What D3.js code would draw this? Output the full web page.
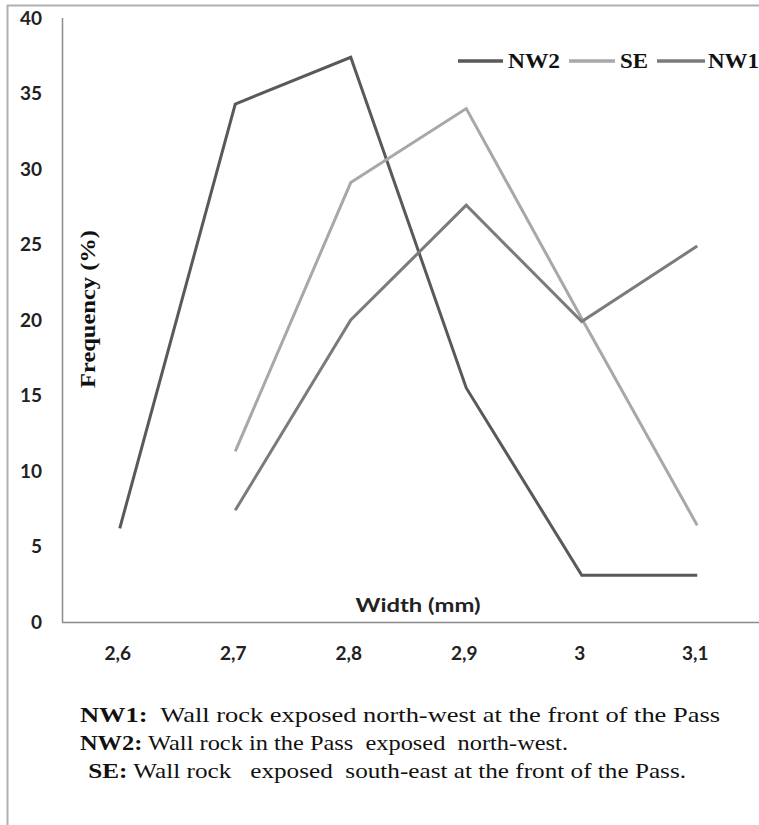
<!DOCTYPE html>
<html><head><meta charset="utf-8">
<script src="https://cdn.jsdelivr.net/npm/d3@7"></script>
<style>html,body{margin:0;padding:0;background:#fff;}svg{display:block;}</style>
</head><body>
<svg id="chart" width="759" height="825"></svg>
<script>
const categories = ["2,6","2,7","2,8","2,9","3","3,1"];
const nw2 = [6.2, 34.3, 37.4, 15.5, 3.1, 3.1];
const se  = [null, 11.3, 29.1, 34.0, 20.1, 6.4];
const nw1 = [null, 7.4, 20.0, 27.6, 19.9, 24.9];
const yTicks = [0,5,10,15,20,25,30,35,40];
const seriesNames = ["NW2","SE","NW1"];
const notes = [
  {b:"NW1:", t:"  Wall rock exposed north-west at the front of the Pass"},
  {b:"NW2:", t:" Wall rock in the Pass  exposed  north-west."},
  {b:" SE:", t:" Wall rock   exposed  south-east at the front of the Pass."}
];

const svg = d3.select("#chart");
const colors = {NW2:"#59595c", SE:"#a8a8aa", NW1:"#7b7b7f"};
const series = [{name:"NW2",v:nw2},{name:"SE",v:se},{name:"NW1",v:nw1}];

// frame
svg.append("line").attr("x1",7).attr("x2",759).attr("y1",5.5).attr("y2",5.5).attr("stroke","#b0b0b0").attr("stroke-width",2);
svg.append("line").attr("x1",7.5).attr("x2",7.5).attr("y1",5).attr("y2",825).attr("stroke","#b0b0b0").attr("stroke-width",2);

const x = d3.scaleBand().domain(categories).range([62,755]);
const y = d3.scaleLinear().domain([0,40]).range([622,18]);
const cx = c => x(c) + x.bandwidth()/2;

const numFont = "Lato, 'Open Sans', sans-serif";
const serif = "'Liberation Serif', 'Times New Roman', serif";

// axes
svg.append("line").attr("x1",62.5).attr("x2",62.5).attr("y1",18).attr("y2",622).attr("stroke","#8a8a8a").attr("stroke-width",1.5);
svg.append("line").attr("x1",62).attr("x2",759).attr("y1",622.5).attr("y2",622.5).attr("stroke","#8a8a8a").attr("stroke-width",1.5);

svg.append("g").selectAll("text").data(yTicks).join("text")
  .attr("x",42).attr("y",d=>y(d)).attr("dy","0.36em").attr("text-anchor","end")
  .attr("font-family",numFont).attr("font-weight","bold").attr("font-size",19).attr("fill","#222")
  .text(d=>d);

svg.append("g").selectAll("text").data(categories).join("text")
  .attr("x",d=>cx(d)-2).attr("y",653).attr("dy","0.36em").attr("text-anchor","middle")
  .attr("font-family",numFont).attr("font-weight","bold").attr("font-size",19).attr("fill","#222")
  .text(d=>d);

svg.append("text").attr("x",418).attr("y",605).attr("dy","0.36em").attr("text-anchor","middle")
  .attr("font-family",numFont).attr("font-weight","bold").attr("font-size",19).attr("fill","#222")
  .attr("textLength",125).attr("lengthAdjust","spacingAndGlyphs")
  .text("Width (mm)");

svg.append("text").attr("transform","translate(88,309) rotate(-90)").attr("dy","0.35em").attr("text-anchor","middle")
  .attr("font-family",serif).attr("font-weight","bold").attr("font-size",20).attr("fill","#111")
  .attr("textLength",158).attr("lengthAdjust","spacingAndGlyphs")
  .text("Frequency (%)");

// lines
const line = d3.line().defined(d=>d.v!=null).x(d=>cx(d.c)).y(d=>y(d.v));
series.forEach(s=>{
  svg.append("path").datum(categories.map((c,i)=>({c:c,v:s.v[i]})))
    .attr("d",line).attr("fill","none").attr("stroke",colors[s.name])
    .attr("stroke-width",3).attr("stroke-linejoin","miter");
});

// legend
const legendPos = [{x1:458,x2:503,tx:508,tw:52},{x1:569,x2:615,tx:620,tw:28},{x1:657,x2:705,tx:708,tw:51}];
seriesNames.forEach((n,i)=>{
  const p = legendPos[i];
  svg.append("line").attr("x1",p.x1).attr("x2",p.x2).attr("y1",61).attr("y2",61).attr("stroke",colors[n]).attr("stroke-width",3.5);
  svg.append("text").attr("x",p.tx).attr("y",61).attr("dy","0.35em")
    .attr("font-family",serif).attr("font-weight","bold").attr("font-size",20).attr("fill","#111")
    .attr("textLength",p.tw).attr("lengthAdjust","spacingAndGlyphs").text(n);
});

// notes
const noteLayout = [{x:80,w:640,y:714},{x:80,w:488,y:742},{x:82,w:604,y:770}];
notes.forEach((n,i)=>{
  const L = noteLayout[i];
  const t = svg.append("text").attr("x",L.x).attr("y",L.y).attr("dy","0.35em")
    .attr("font-family",serif).attr("font-size",22).attr("fill","#111")
    .attr("xml:space","preserve").style("white-space","pre")
    .attr("textLength",L.w).attr("lengthAdjust","spacingAndGlyphs");
  t.append("tspan").attr("font-weight","bold").text(n.b);
  t.append("tspan").text(n.t);
});
</script>
</body></html>
